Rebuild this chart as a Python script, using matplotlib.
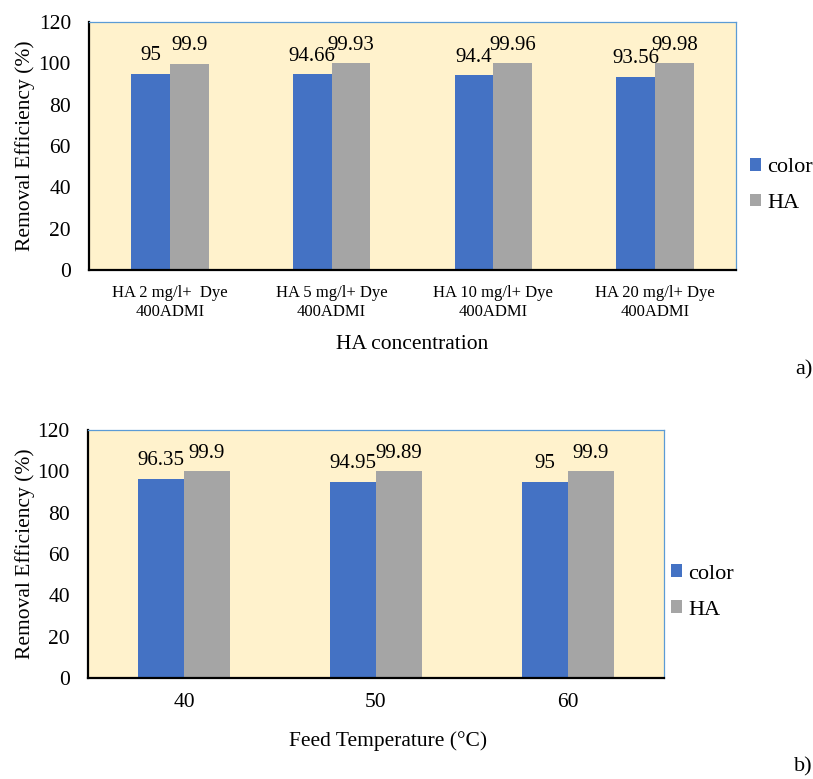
import numpy as np
import matplotlib.pyplot as plt

plt.rcParams['font.family'] = ['Liberation Serif', 'DejaVu Serif']

# panel a) - effect of humic acid concentration
conc_labels = ['HA 2 mg/l+  Dye\n400ADMI', 'HA 5 mg/l+ Dye\n400ADMI',
               'HA 10 mg/l+ Dye\n400ADMI', 'HA 20 mg/l+ Dye\n400ADMI']
conc_color = [95, 94.66, 94.4, 93.56]
conc_ha = [99.9, 99.93, 99.96, 99.98]

# panel b) - effect of feed temperature
temp_labels = ['40', '50', '60']
temp_color = [96.35, 94.95, 95]
temp_ha = [99.9, 99.89, 99.9]

BLUE = '#4472c4'
GREY = '#a5a5a5'
BG = '#fff2cc'


def fmt(v):
    return f'{v:g}'


def draw_panel(ax, labels, color_vals, ha_vals, xlabel, cat_size,
               ylab_x, xlab_xy, legend_xy):
    x = np.arange(len(labels))
    w = 0.24
    b1 = ax.bar(x - w / 2, color_vals, w, color=BLUE, label='color')
    b2 = ax.bar(x + w / 2, ha_vals, w, color=GREY, label='HA')
    for bars, vals in ((b1, color_vals), (b2, ha_vals)):
        for rect, v in zip(bars, vals):
            ax.annotate(fmt(v), (rect.get_x() + rect.get_width() / 2, v),
                        xytext=(0, 6), textcoords='offset points',
                        ha='center', va='bottom', fontsize=15)
    ax.set_facecolor(BG)
    ax.set_xlim(-0.5, len(labels) - 0.5)
    ax.set_ylim(0, 120)
    ax.set_yticks(range(0, 121, 20))
    ax.set_xticks(x)
    ax.set_xticklabels(labels, fontsize=cat_size, linespacing=1.25)
    ax.tick_params(axis='y', length=0, labelsize=15.5, pad=13)
    ax.tick_params(axis='x', length=0, pad=11)
    for s in ('left', 'bottom'):
        ax.spines[s].set_color('black')
        ax.spines[s].set_linewidth(1.6)
    for s in ('top', 'right'):
        ax.spines[s].set_color('#5b9bd5')
        ax.spines[s].set_linewidth(0.9)

    ax.set_ylabel('Removal Efficiency (%)', fontsize=15.5)
    ax.yaxis.label.set_verticalalignment('center')
    ax.yaxis.set_label_coords(ylab_x, 0.5)
    ax.set_xlabel(xlabel, fontsize=15.5)
    ax.xaxis.label.set_verticalalignment('center')
    ax.xaxis.set_label_coords(*xlab_xy)

    ax.legend(loc='center left', bbox_to_anchor=legend_xy,
              bbox_transform=ax.figure.transFigure, frameon=False,
              fontsize=16, handlelength=0.5, handleheight=0.5,
              handletextpad=0.3, labelspacing=0.75, borderpad=0,
              borderaxespad=0)


fig = plt.figure(figsize=(8.13, 7.79), dpi=100)

ax1 = fig.add_axes([0.1095, 0.6534, 0.7958, 0.3184])
draw_panel(ax1, conc_labels, conc_color, conc_ha, 'HA concentration', 12,
           -0.099, (0.5, -0.30), (0.922, 0.762))

ax2 = fig.add_axes([0.1082, 0.1297, 0.7085, 0.3184])
draw_panel(ax2, temp_labels, temp_color, temp_ha, 'Feed Temperature (°C)', 15.5,
           -0.109, (0.521, -0.255), (0.825, 0.240))

fig.text(0.999, 0.525, 'a)', ha='right', va='center', fontsize=16)
fig.text(0.999, 0.016, 'b)', ha='right', va='center', fontsize=16)

fig.savefig('out.png', dpi=100)
